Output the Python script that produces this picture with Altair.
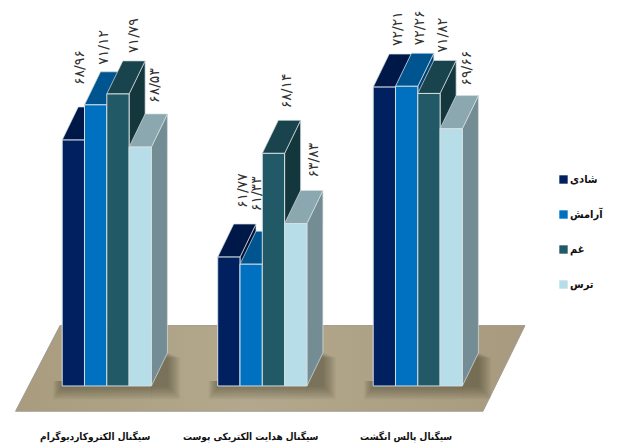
import altair as alt
import pandas as pd

# Signals, emotions and their mean values
signals = ["سیگنال الکتروکاردیوگرام", "سیگنال هدایت الکتریکی پوست", "سیگنال پالس انگشت"]
emotions = ["شادی", "آرامش", "غم", "ترس"]
values = [
    [68.96, 71.12, 71.79, 68.53],
    [61.77, 61.33, 68.14, 63.83],
    [72.21, 72.26, 71.82, 69.66],
]
value_labels = [
    ["۶۸/۹۶", "۷۱/۱۲", "۷۱/۷۹", "۶۸/۵۳"],
    ["۶۱/۷۷", "۶۱/۳۳", "۶۸/۱۴", "۶۳/۸۳"],
    ["۷۲/۲۱", "۷۲/۲۶", "۷۱/۸۲", "۶۹/۶۶"],
]

front_colors = ["#002060", "#0070C0", "#215A66", "#B7DEE8"]
top_colors = ["#001848", "#005490", "#1A444D", "#8BA8B0"]
side_colors = ["#001239", "#004274", "#14363D", "#748D94"]

# Geometry, in scale units (one x unit is one group of bars)
BASE = 53.85
BAR_W = 0.1434
GROUP_LEFT = 0.4
DEPTH_X = 0.103
DEPTH_Y = 2.03
EDGE = "#D5DEE2"

# Hand placement of the value labels: lift above the bar, shift beside it
label_lift = [
    [1.35, 0.43, 0.49, 0.68],
    [0.98, 1.23, 0.74, 0.80],
    [0.49, 0.49, 0.49, 0.61],
]
label_shift = [
    [-0.058, -0.051, 0.0, -0.006],
    [-0.013, -0.064, -0.013, 0.013],
    [-0.013, -0.019, -0.013, 0.0],
]

x_scale = alt.Scale(domain=[0, 4], range=[0, 622], nice=False, zero=False)
y_scale = alt.Scale(domain=[50.04, 77.56], range=[448, 0], nice=False, zero=False)


def qx(name):
    return alt.X(name, type="quantitative", scale=x_scale, axis=None)


def qy(name):
    return alt.Y(name, type="quantitative", scale=y_scale, axis=None, stack=None)


# The floor plane under the bars
floor = pd.DataFrame({"y": [52.3, 57.56], "x": [0.1, 0.386], "x2": [3.106, 3.376]})
floor_layer = alt.Chart(floor).mark_area(
    orient="horizontal",
    stroke="#A09B90",
    strokeWidth=1,
    color=alt.Gradient(
        gradient="linear",
        x1=0, x2=1, y1=0, y2=0,
        stops=[
            alt.GradientStop(offset=0, color="#A99C7E"),
            alt.GradientStop(offset=0.45, color="#B3A88D"),
            alt.GradientStop(offset=1, color="#A89A7E"),
        ],
    ),
).encode(y=qy("y"), x=qx("x"), x2="x2")

# Soft shadow from nested translucent rectangles: a band under the bars
# and a narrower one to the right of the side faces
shadow_rows = []
for g in range(3):
    left = g + GROUP_LEFT
    front_right = left + 4 * BAR_W
    right = front_right + DEPTH_X
    for k in range(9):
        grow = 0.012 * k
        low = BASE - 0.05 - grow * 8.0
        shadow_rows.append({"x": left - grow * 0.6, "x2": front_right, "y": BASE + 0.3, "y2": low})
        shadow_rows.append({
            "x": front_right,
            "x2": right + 0.005 + grow * 0.8,
            "y": BASE + DEPTH_Y - grow * 3.0,
            "y2": low,
        })
shadow_layer = alt.Chart(pd.DataFrame(shadow_rows)).mark_rect(
    color="#2B2418", opacity=0.05
).encode(x=qx("x"), x2="x2", y=qy("y"), y2="y2")

# One side, top and front face per bar, painted from left to right
bar_layers = []
for s, emotion in enumerate(emotions):
    side, top, front = [], [], []
    for g, signal in enumerate(signals):
        v = values[g][s]
        left = g + GROUP_LEFT + s * BAR_W
        right = left + BAR_W
        side += [
            {"g": g, "x": right, "y": v, "y2": BASE},
            {"g": g, "x": right + DEPTH_X, "y": v + DEPTH_Y, "y2": BASE + DEPTH_Y},
        ]
        top += [
            {"g": g, "y": v, "x": left, "x2": right},
            {"g": g, "y": v + DEPTH_Y, "x": left + DEPTH_X, "x2": right + DEPTH_X},
        ]
        front.append({"x": left, "x2": right, "y": v, "y2": BASE, "emotion": emotion})

    bar_layers.append(
        alt.Chart(pd.DataFrame(side)).mark_area(
            color=side_colors[s], stroke=EDGE, strokeWidth=0.7
        ).encode(x=qx("x"), y=qy("y"), y2="y2", detail="g:N")
    )
    bar_layers.append(
        alt.Chart(pd.DataFrame(top)).mark_area(
            orient="horizontal", color=top_colors[s], stroke=EDGE, strokeWidth=0.7
        ).encode(y=qy("y"), x=qx("x"), x2="x2", detail="g:N")
    )
    bar_layers.append(
        alt.Chart(pd.DataFrame(front)).mark_rect(stroke=EDGE, strokeWidth=1).encode(
            x=qx("x"),
            x2="x2",
            y=qy("y"),
            y2="y2",
            color=alt.Color(
                "emotion:N",
                scale=alt.Scale(domain=emotions, range=front_colors),
                legend=alt.Legend(
                    title=None,
                    orient="none",
                    legendX=558,
                    legendY=174,
                    symbolType="square",
                    symbolSize=70,
                    symbolStrokeWidth=0,
                    labelFont="DejaVu Sans Condensed",
                    labelFontWeight="bold",
                    labelFontSize=11,
                    labelColor="#111111",
                    labelOffset=1,
                    rowPadding=23,
                ),
            ),
        )
    )

# Rotated value labels above each bar
label_rows = []
for g in range(3):
    for s in range(4):
        v = values[g][s]
        label_rows.append({
            "x": g + GROUP_LEFT + s * BAR_W + BAR_W / 2 + DEPTH_X + label_shift[g][s],
            "y": v + DEPTH_Y + label_lift[g][s],
            "t": value_labels[g][s],
        })
label_layer = alt.Chart(pd.DataFrame(label_rows)).mark_text(
    angle=270, align="left", baseline="middle", font="DejaVu Sans",
    fontSize=14, color="#333333",
).encode(x=qx("x"), y=qy("y"), text="t:N")

# Group names below the floor
name_rows = [
    {"x": g + GROUP_LEFT + 0.212, "y": 50.72, "t": name}
    for g, name in enumerate(signals)
]
name_layer = alt.Chart(pd.DataFrame(name_rows)).mark_text(
    align="center", baseline="middle", font="DejaVu Sans Condensed",
    fontWeight="bold", fontSize=10, color="#111111",
).encode(x=qx("x"), y=qy("y"), text="t:N")

chart = alt.layer(
    floor_layer, shadow_layer, *bar_layers, label_layer, name_layer
).properties(
    width=622, height=448, padding=0, autosize=alt.AutoSizeParams(type="none"),
    background="white",
).configure_view(stroke=None)

chart.save("out.html", embed_options={"renderer": "svg", "actions": False})
